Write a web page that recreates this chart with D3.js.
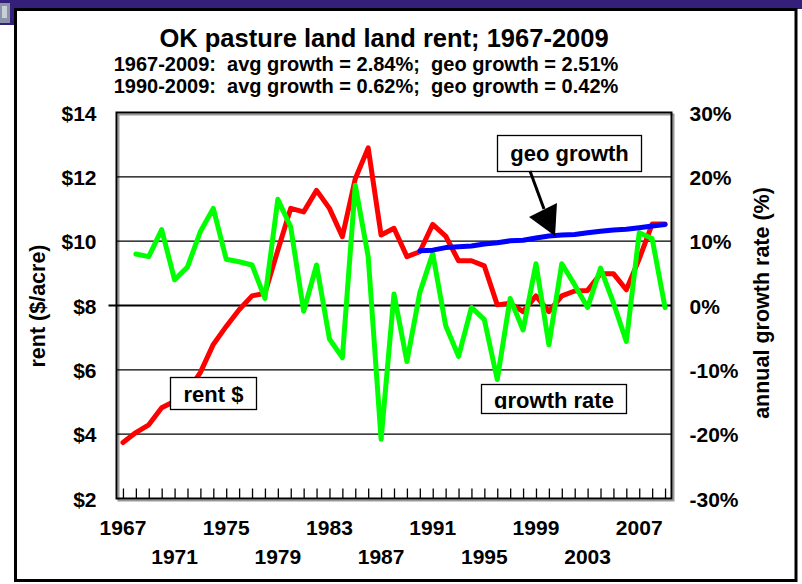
<!DOCTYPE html>
<html>
<head>
<meta charset="utf-8">
<script src="https://cdn.jsdelivr.net/npm/d3@7/dist/d3.min.js"></script>
<style>
  body { margin: 0; background: #fff; }
  text { font-family: "Liberation Sans", Arial, sans-serif; font-weight: bold; fill: #000; }
</style>
</head>
<body>
<div id="chart"></div>
<script>
var years = [1967, 1968, 1969, 1970, 1971, 1972, 1973, 1974, 1975, 1976, 1977, 1978, 1979, 1980,
  1981, 1982, 1983, 1984, 1985, 1986, 1987, 1988, 1989, 1990, 1991, 1992, 1993, 1994, 1995,
  1996, 1997, 1998, 1999, 2000, 2001, 2002, 2003, 2004, 2005, 2006, 2007, 2008, 2009];

// rent ($/acre)
var rent = [3.74, 4.05, 4.29, 4.82, 5.02, 5.31, 5.92, 6.79, 7.35, 7.87, 8.30, 8.38, 9.72, 11.02,
  10.91, 11.58, 11.02, 10.14, 11.94, 12.90, 10.19, 10.40, 9.52, 9.67, 10.52, 10.16, 9.39, 9.39, 9.23,
  8.02, 8.07, 7.81, 8.30, 7.81, 8.30, 8.45, 8.47, 8.99, 8.99, 8.49, 9.45, 10.53, 10.53];

// annual growth rate (%)
var growth = [null, 8.0, 7.6, 11.8, 4.0, 6.0, 11.5, 15.1, 7.2, 6.8, 6.3, 1.1, 16.5, 12.2,
  -0.9, 6.3, -5.2, -8.1, 18.7, 7.6, -20.8, 1.8, -8.7, 2.0, 8.1, -3.1, -7.9, -0.3, -2.2,
  -11.5, 1.1, -3.8, 6.5, -6.1, 6.5, 3.2, -0.3, 5.8, 0.4, -5.6, 11.3, 10.4, -0.3];

// geo growth path of rent, 1990-2009
var geoYears = [1990, 1991, 1992, 1993, 1994, 1995, 1996, 1997, 1998, 1999,
  2000, 2001, 2002, 2003, 2004, 2005, 2006, 2007, 2008, 2009];
var geo = [9.70, 9.72, 9.80, 9.83, 9.85, 9.91, 9.95, 10.01, 10.03, 10.10,
  10.16, 10.19, 10.21, 10.26, 10.31, 10.35, 10.37, 10.42, 10.47, 10.52];

var rentTicks = [2, 4, 6, 8, 10, 12, 14];
var pctTicks = [-30, -20, -10, 0, 10, 20, 30];
var yearLabelsTop = [1967, 1975, 1983, 1991, 1999, 2007];
var yearLabelsBottom = [1971, 1979, 1987, 1995, 2003];

var titleText = "OK pasture land land rent; 1967-2009";
var subText1 = "1967-2009:  avg growth = 2.84%;  geo growth = 2.51%";
var subText2 = "1990-2009:  avg growth = 0.62%;  geo growth = 0.42%";

var width = 802, height = 584;
var plot = { left: 116.5, right: 671.5, top: 112.5, bottom: 498.5 };

var svg = d3.select("#chart").append("svg")
  .attr("width", width)
  .attr("height", height);

// slide background: purple band on top and a corner of a photo
svg.append("rect").attr("x", 0).attr("y", 0).attr("width", width).attr("height", 9).style("fill", "#34207a");
svg.append("rect").attr("x", 0).attr("y", 0).attr("width", 16).attr("height", 25).style("fill", "#34207a");
svg.append("rect").attr("x", 0).attr("y", 3).attr("width", 10).attr("height", 20).style("fill", "#8a93a8");
svg.append("rect").attr("x", 2).attr("y", 6).attr("width", 5).attr("height", 12).style("fill", "#c9ced8");

// chart frame
svg.append("rect")
  .attr("x", 15.5).attr("y", 9.5)
  .attr("width", 780.5).attr("height", 571)
  .style("fill", "#fff")
  .style("stroke", "#000")
  .style("stroke-width", 3);

var x = d3.scalePoint()
  .domain(years)
  .range([plot.left, plot.right])
  .padding(0.5);

var yRent = d3.scaleLinear().domain([2, 14]).range([plot.bottom, plot.top]);
var yPct = d3.scaleLinear().domain([-30, 30]).range([plot.bottom, plot.top]);

// plot area with shadow
svg.append("rect")
  .attr("x", plot.left + 2).attr("y", plot.top + 2)
  .attr("width", plot.right - plot.left).attr("height", plot.bottom - plot.top)
  .style("fill", "none").style("stroke", "#9a9a9a").style("stroke-width", 2);

// gridlines
svg.append("g")
  .selectAll("line")
  .data(rentTicks.filter(function(d) { return d != 2 && d != 14 && d != 8; }))
  .enter()
  .append("line")
  .attr("x1", plot.left).attr("x2", plot.right)
  .attr("y1", function(d) { return yRent(d); })
  .attr("y2", function(d) { return yRent(d); })
  .style("stroke", "#000")
  .style("stroke-width", 1.3);

svg.append("line")
  .attr("x1", plot.left - 8).attr("x2", plot.right)
  .attr("y1", yRent(8)).attr("y2", yRent(8))
  .style("stroke", "#000")
  .style("stroke-width", 2);

svg.append("rect")
  .attr("x", plot.left).attr("y", plot.top)
  .attr("width", plot.right - plot.left).attr("height", plot.bottom - plot.top)
  .style("fill", "none").style("stroke", "#000").style("stroke-width", 2);

// x ticks pointing inward
svg.append("g")
  .attr("transform", "translate(0," + plot.bottom + ")")
  .call(d3.axisBottom(x).tickSize(-10).tickFormat(""))
  .call(function(g) {
    g.select(".domain").remove();
    g.selectAll(".tick line").style("stroke", "#000").style("stroke-width", 1.3);
  });

// left axis labels
svg.append("g")
  .attr("transform", "translate(" + (plot.left - 17) + ",0)")
  .call(d3.axisLeft(yRent).tickValues(rentTicks).tickSize(0).tickFormat(function(d) { return "$" + d; }))
  .call(function(g) {
    g.select(".domain").remove();
    g.selectAll("text").style("font-size", "21px").attr("dy", "0.36em");
  });

// right axis labels
svg.append("g")
  .attr("transform", "translate(" + (plot.right + 18) + ",0)")
  .call(d3.axisRight(yPct).tickValues(pctTicks).tickSize(0).tickFormat(function(d) { return d + "%"; }))
  .call(function(g) {
    g.select(".domain").remove();
    g.selectAll("text").style("font-size", "21px").attr("dy", "0.36em").attr("x", 0);
  });

// year labels on two rows
svg.append("g")
  .selectAll("text")
  .data(yearLabelsTop)
  .enter()
  .append("text")
  .attr("x", function(d) { return x(d); })
  .attr("y", 535)
  .attr("text-anchor", "middle")
  .style("font-size", "21px")
  .text(function(d) { return d; });

svg.append("g")
  .selectAll("text")
  .data(yearLabelsBottom)
  .enter()
  .append("text")
  .attr("x", function(d) { return x(d); })
  .attr("y", 564)
  .attr("text-anchor", "middle")
  .style("font-size", "21px")
  .text(function(d) { return d; });

// axis titles
svg.append("text")
  .attr("text-anchor", "middle")
  .attr("transform", "translate(45,306)rotate(-90)")
  .style("font-size", "21.5px")
  .text("rent ($/acre)");

svg.append("text")
  .attr("text-anchor", "middle")
  .attr("transform", "translate(769,303)rotate(-90)")
  .style("font-size", "21.5px")
  .text("annual growth rate (%)");

// titles
svg.append("text")
  .attr("x", 384).attr("y", 47)
  .attr("text-anchor", "middle")
  .style("font-size", "25.5px")
  .text(titleText);

svg.append("text")
  .attr("x", 366).attr("y", 71)
  .attr("text-anchor", "middle")
  .style("font-size", "20px")
  .style("white-space", "pre")
  .text(subText1);

svg.append("text")
  .attr("x", 366).attr("y", 93)
  .attr("text-anchor", "middle")
  .style("font-size", "20px")
  .style("white-space", "pre")
  .text(subText2);

// series
var rentLine = d3.line()
  .x(function(d, i) { return x(years[i]); })
  .y(function(d) { return yRent(d); });

var growthLine = d3.line()
  .defined(function(d) { return d != null; })
  .x(function(d, i) { return x(years[i]); })
  .y(function(d) { return yPct(d); });

var geoLine = d3.line()
  .x(function(d, i) { return x(geoYears[i]); })
  .y(function(d) { return yRent(d); });

svg.append("path")
  .datum(rent)
  .attr("d", rentLine)
  .style("fill", "none")
  .style("stroke", "#ff0000")
  .style("stroke-width", 5)
  .style("stroke-linejoin", "round")
  .style("stroke-linecap", "round");

svg.append("path")
  .datum(growth)
  .attr("d", growthLine)
  .style("fill", "none")
  .style("stroke", "#00ff00")
  .style("stroke-width", 5)
  .style("stroke-linejoin", "round")
  .style("stroke-linecap", "round");

svg.append("path")
  .datum(geo)
  .attr("d", geoLine)
  .style("fill", "none")
  .style("stroke", "#0000ff")
  .style("stroke-width", 5)
  .style("stroke-linejoin", "round")
  .style("stroke-linecap", "round");

// callout boxes
function callout(bx, by, bw, bh, label, baseline, clipBottom, id) {
  svg.append("clipPath").attr("id", id)
    .append("rect").attr("x", bx).attr("y", by).attr("width", bw).attr("height", clipBottom - by);
  svg.append("rect")
    .attr("x", bx).attr("y", by).attr("width", bw).attr("height", bh)
    .style("fill", "#fff").style("stroke", "#000").style("stroke-width", 1.3);
  svg.append("text")
    .attr("x", bx + bw / 2).attr("y", baseline)
    .attr("text-anchor", "middle")
    .attr("clip-path", "url(#" + id + ")")
    .style("font-size", "22px")
    .text(label);
}

callout(170.5, 377.5, 86, 32, "rent $", 402, 409.5, "clipRent");
callout(481.5, 384.5, 145, 29, "growth rate", 407.5, 409, "clipGrowth");
callout(497.5, 135.5, 144, 36, "geo growth", 161, 171.5, "clipGeo");

// arrow to the geo growth line
svg.append("line")
  .attr("x1", 530).attr("y1", 171)
  .attr("x2", 544).attr("y2", 209)
  .style("stroke", "#000").style("stroke-width", 3);

svg.append("path")
  .attr("d", "M555,236L529,217L557,203Z")
  .style("fill", "#000");
</script>
</body>
</html>
